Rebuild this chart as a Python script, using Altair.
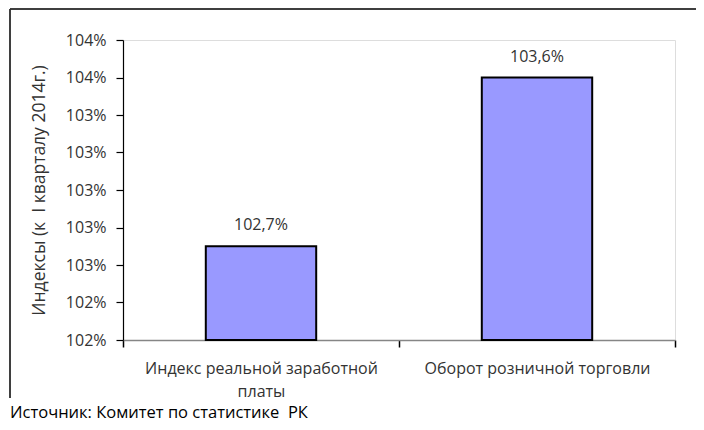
import altair as alt
import pandas as pd

categories = ["Индекс реальной заработной|платы", "Оборот розничной торговли"]
values = [102.7, 103.6]
value_labels = ["102,7%", "103,6%"]
axis_min = 102.2
axis_max = 103.8
y_ticks = [102.2, 102.4, 102.6, 102.8, 103.0, 103.2, 103.4, 103.6, 103.8]
y_title = "Индексы (к \u00a0I кварталу 2014г.)"
source_text = "Источник: Комитет по статистике \u00a0РК"

df = pd.DataFrame({
    "cat": categories,
    "value": values,
    "label": value_labels,
    "base": [axis_min] * len(categories),
})

FONT = "Open Sans"
TXT = "#333333"
FS = 16

x_axis = alt.Axis(
    labelExpr="split(datum.label, '|')",
    labelAngle=0, labelFontSize=FS, labelFont=FONT, labelColor=TXT,
    labelLineHeight=23, labelPadding=13, labelLimit=400, labelOverlap=False,
    domainColor="#868686", domainWidth=1.5,
    tickColor="#000000", tickSize=7, tickWidth=1.5, tickBand="extent",
)
x_scale = alt.Scale(paddingInner=0, paddingOuter=0)
y_axis = alt.Axis(
    values=y_ticks,
    labelExpr="format(datum.value, '.0f') + '%'",
    labelFontSize=FS, labelFont=FONT, labelColor=TXT, labelPadding=10,
    labelOverlap=False,
    titleFontSize=17.5, titleFont=FONT, titleColor=TXT, titleFontWeight="normal",
    titlePadding=17,
    domainColor="#000000", domainWidth=1.2,
    tickColor="#000000", tickSize=7, tickWidth=1.2, grid=False,
)
y_scale = alt.Scale(domain=[axis_min, axis_max], zero=False, nice=False)

bars = alt.Chart(df).mark_bar(
    width=alt.RelativeBandSize(0.4), color="#9999FF", stroke="#000000", strokeWidth=2
).encode(
    x=alt.X("cat:N", sort=categories, title=None, scale=x_scale, axis=x_axis),
    y=alt.Y("value:Q", scale=y_scale, title=y_title, axis=y_axis),
    y2="base:Q",
)

text = alt.Chart(df).mark_text(
    baseline="bottom", dy=-13, fontSize=FS, font=FONT, color=TXT
).encode(
    x=alt.X("cat:N", sort=categories, title=None, scale=x_scale, axis=x_axis),
    y=alt.Y("value:Q", scale=y_scale, title=y_title, axis=y_axis),
    text="label:N",
)

frame_top = alt.Chart(df).mark_rule(color="#333333", strokeWidth=1.5).encode(
    x=alt.value(-113), x2=alt.value(700), y=alt.value(-31)
)
frame_left = alt.Chart(df).mark_rule(color="#333333", strokeWidth=1.5).encode(
    x=alt.value(-113), y=alt.value(-31), y2=alt.value(358)
)
source = alt.Chart(pd.DataFrame({"t": [source_text]})).mark_text(
    align="left", baseline="middle", fontSize=16.5, font=FONT, color="#000000"
).encode(
    x=alt.value(-113), y=alt.value(373), text="t:N"
)

chart = alt.layer(bars, text, frame_top, frame_left, source).properties(
    width=552, height=300,
    autosize=alt.AutoSizeParams(type="none"),
    padding={"left": 115, "top": 32, "right": 21, "bottom": 82},
).configure_view(stroke=None, strokeWidth=0).configure(background="#ffffff")

chart.save("out.html", embed_options={"renderer": "svg", "actions": False})
